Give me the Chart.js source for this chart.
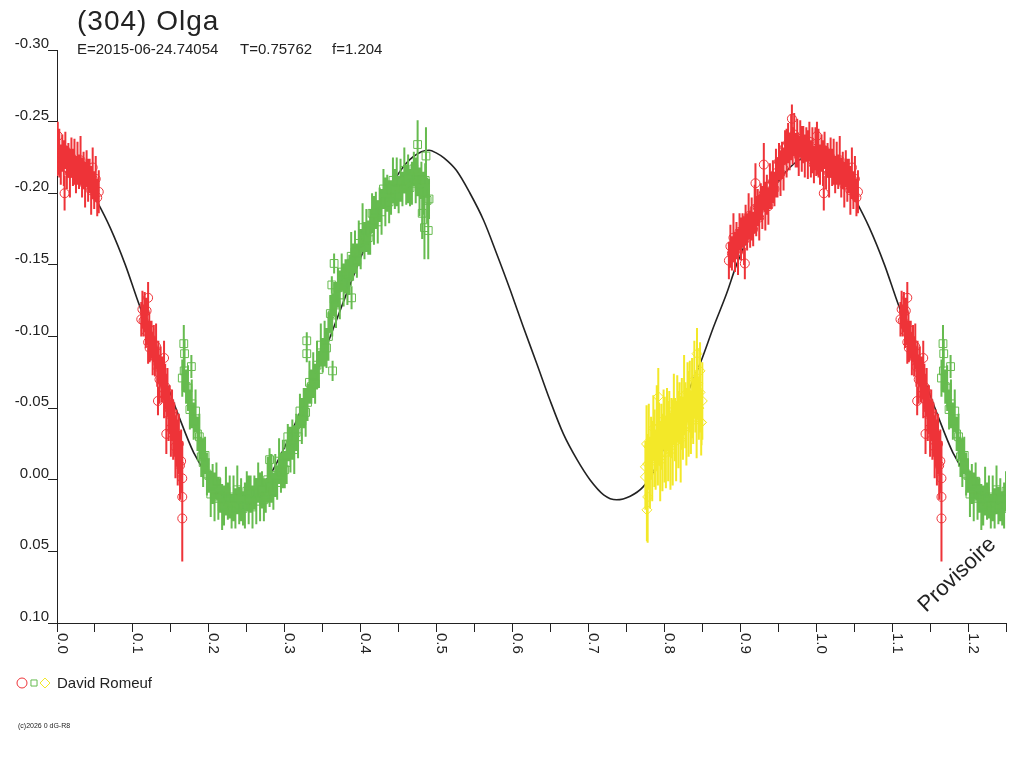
<!DOCTYPE html>
<html>
<head>
<meta charset="utf-8">
<title>(304) Olga</title>
<script src="https://cdn.jsdelivr.net/npm/chart.js@4.4.1/dist/chart.umd.min.js"></script>
<style>
  html, body { margin: 0; padding: 0; background: #fff; }
  #lc { display: block; }
</style>
</head>
<body>
<canvas id="lc" width="1024" height="768"></canvas>
<script>
const titleText = "(304) Olga";
const subtitleParts = ["E=2015-06-24.74054", "T=0.75762", "f=1.204"];
const observerName = "David Romeuf";
const copyrightText = "(c)2026 0 dG-R8";
const stampText = "Provisoire";

const xTickValues = [0, 0.1, 0.2, 0.3, 0.4, 0.5, 0.6, 0.7, 0.8, 0.9, 1.0, 1.1, 1.2];
const xTickLabels = ["0.0", "0.1", "0.2", "0.3", "0.4", "0.5", "0.6", "0.7", "0.8", "0.9", "1.0", "1.1", "1.2"];
const yTickValues = [-0.30, -0.25, -0.20, -0.15, -0.10, -0.05, 0.00, 0.05, 0.10];
const yTickLabels = ["-0.30", "-0.25", "-0.20", "-0.15", "-0.10", "-0.05", "0.00", "0.05", "0.10"];

// [phase, mag, error]
const redSession = [
  [0.885,-0.153,0.013],[0.887,-0.163,0.015],[0.889,-0.158,0.012],[0.891,-0.169,0.017],[0.893,-0.159,0.014],
  [0.895,-0.167,0.013],[0.897,-0.159,0.016],[0.899,-0.173,0.013],[0.901,-0.168,0.015],[0.903,-0.174,0.012],
  [0.905,-0.167,0.017],[0.907,-0.178,0.014],[0.909,-0.173,0.013],[0.911,-0.184,0.016],[0.913,-0.175,0.013],
  [0.915,-0.182,0.015],[0.917,-0.175,0.012],[0.919,-0.189,0.017],[0.921,-0.184,0.014],[0.923,-0.190,0.013],
  [0.925,-0.183,0.016],[0.927,-0.194,0.013],[0.929,-0.190,0.015],[0.931,-0.200,0.012],[0.933,-0.191,0.017],
  [0.935,-0.199,0.014],[0.937,-0.191,0.013],[0.939,-0.205,0.016],[0.941,-0.202,0.013],[0.943,-0.208,0.015],
  [0.945,-0.203,0.012],[0.947,-0.214,0.017],[0.949,-0.211,0.014],[0.951,-0.222,0.013],[0.953,-0.214,0.016],
  [0.955,-0.223,0.013],[0.957,-0.217,0.015],[0.959,-0.232,0.012],[0.961,-0.228,0.017],[0.963,-0.235,0.014],
  [0.965,-0.229,0.013],[0.967,-0.239,0.016],[0.969,-0.233,0.013],[0.971,-0.241,0.015],[0.973,-0.230,0.012],
  [0.975,-0.235,0.017],[0.977,-0.226,0.014],[0.979,-0.238,0.013],[0.981,-0.231,0.016],[0.983,-0.234,0.013],
  [0.985,-0.226,0.015],[0.987,-0.234,0.012],[0.989,-0.227,0.017],[0.991,-0.236,0.014],[0.993,-0.224,0.013],
  [0.995,-0.230,0.016],[0.997,-0.220,0.013],[0.999,-0.231,0.015],
  [0.001,-0.225,0.012],[0.003,-0.228,0.017],[0.005,-0.220,0.014],[0.007,-0.228,0.013],[0.009,-0.221,0.016],
  [0.011,-0.230,0.013],[0.013,-0.218,0.015],[0.015,-0.223,0.012],[0.017,-0.214,0.017],[0.019,-0.225,0.014],
  [0.021,-0.218,0.013],[0.023,-0.222,0.016],[0.025,-0.213,0.013],[0.027,-0.221,0.015],[0.029,-0.215,0.012],
  [0.031,-0.223,0.017],[0.033,-0.211,0.014],[0.035,-0.216,0.013],[0.037,-0.206,0.016],[0.039,-0.217,0.013],
  [0.041,-0.209,0.015],[0.043,-0.212,0.012],[0.045,-0.202,0.017],[0.047,-0.210,0.014],[0.049,-0.202,0.013],
  [0.051,-0.210,0.016],[0.053,-0.197,0.013],[0.055,-0.201,0.015],
  [0.906,-0.151,0.011],[0.920,-0.207,0.014],[0.931,-0.220,0.015],[0.968,-0.252,0.010],[0.001,-0.240,0.010],
  [0.010,-0.200,0.012],[0.047,-0.218,0.014],[0.000,-0.222,0.010],
  [0.1110,-0.112,0.012],[0.1125,-0.119,0.013],[0.1140,-0.111,0.011],[0.1155,-0.117,0.014],[0.1170,-0.104,0.012],
  [0.1185,-0.107,0.013],[0.1200,-0.096,0.015],[0.1215,-0.105,0.012],[0.1230,-0.097,0.014],[0.1245,-0.098,0.013],
  [0.1260,-0.088,0.015],[0.1275,-0.095,0.013],[0.1290,-0.086,0.014],[0.1305,-0.093,0.016],[0.1320,-0.079,0.014],
  [0.1335,-0.082,0.015],[0.1350,-0.070,0.017],[0.1365,-0.079,0.014],[0.1380,-0.070,0.016],[0.1395,-0.071,0.015],
  [0.1410,-0.060,0.017],[0.1425,-0.065,0.016],[0.1440,-0.056,0.018],[0.1455,-0.061,0.017],[0.1470,-0.046,0.019],
  [0.1485,-0.049,0.017],[0.1500,-0.036,0.020],[0.1515,-0.045,0.018],[0.1530,-0.035,0.021],[0.1545,-0.035,0.019],
  [0.1560,-0.023,0.022],[0.1575,-0.029,0.020],[0.1590,-0.019,0.023],[0.1605,-0.025,0.021],[0.1620,-0.010,0.024],
  [0.1635,-0.013,0.022],[0.1650,-0.001,0.026],
  [0.120,-0.127,0.011],[0.118,-0.118,0.009],[0.122,-0.092,0.010],[0.133,-0.055,0.010],[0.141,-0.085,0.012],
  [0.144,-0.032,0.014],[0.165,0.012,0.015],[0.165,0.027,0.030]
];

const greenSession = [
  [0.1650,-0.071,0.013],[0.1675,-0.076,0.015],[0.1700,-0.065,0.012],[0.1725,-0.064,0.016],[0.1750,-0.049,0.014],
  [0.1775,-0.053,0.017],[0.1800,-0.041,0.013],[0.1825,-0.048,0.015],[0.1850,-0.032,0.012],[0.1875,-0.030,0.016],
  [0.1900,-0.016,0.014],[0.1925,-0.012,0.017],[0.1950,-0.017,0.013],[0.1975,-0.004,0.015],[0.2000,-0.003,0.012],
  [0.2025,0.010,0.016],[0.2050,0.003,0.014],[0.2075,0.012,0.017],[0.2100,0.001,0.013],[0.2125,0.013,0.015],
  [0.2150,0.011,0.012],[0.2175,0.019,0.016],[0.2200,0.018,0.014],[0.2225,0.008,0.017],[0.2250,0.015,0.013],
  [0.2275,0.012,0.015],[0.2300,0.022,0.012],[0.2325,0.013,0.016],[0.2350,0.020,0.014],[0.2375,0.007,0.017],
  [0.2400,0.018,0.013],[0.2425,0.014,0.015],[0.2450,0.020,0.012],[0.2475,0.018,0.016],[0.2500,0.008,0.014],
  [0.2525,0.014,0.017],[0.2550,0.010,0.013],[0.2575,0.019,0.015],[0.2600,0.009,0.012],[0.2625,0.015,0.016],
  [0.2650,0.002,0.014],[0.2675,0.012,0.017],[0.2700,0.007,0.013],[0.2725,0.014,0.015],[0.2750,0.011,0.012],
  [0.2775,0.000,0.016],[0.2800,0.005,0.014],[0.2825,-0.001,0.017],[0.2850,0.008,0.013],[0.2875,-0.003,0.015],
  [0.2900,0.002,0.012],[0.2925,-0.013,0.016],[0.2950,-0.005,0.014],[0.2975,-0.011,0.017],[0.3000,-0.007,0.013],
  [0.3025,-0.012,0.015],[0.3050,-0.025,0.012],[0.3075,-0.021,0.016],[0.3100,-0.028,0.014],[0.3125,-0.021,0.017],
  [0.3150,-0.033,0.013],[0.3175,-0.030,0.015],[0.3200,-0.048,0.012],[0.3225,-0.041,0.016],[0.3250,-0.050,0.014],
  [0.3275,-0.047,0.017],[0.3300,-0.054,0.013],[0.3325,-0.068,0.015],[0.3350,-0.065,0.012],[0.3375,-0.073,0.016],
  [0.3400,-0.067,0.014],[0.3425,-0.080,0.017],[0.3450,-0.077,0.013],[0.3475,-0.094,0.015],[0.3500,-0.087,0.012],
  [0.3525,-0.095,0.016],[0.3550,-0.092,0.014],[0.3575,-0.100,0.017],[0.3600,-0.116,0.013],[0.3625,-0.115,0.015],
  [0.3650,-0.126,0.012],[0.3675,-0.122,0.016],[0.3700,-0.134,0.014],[0.3725,-0.129,0.017],[0.3750,-0.145,0.013],
  [0.3775,-0.136,0.015],[0.3800,-0.142,0.012],[0.3825,-0.138,0.016],[0.3850,-0.143,0.014],[0.3875,-0.156,0.017],
  [0.3900,-0.152,0.013],[0.3925,-0.159,0.015],[0.3950,-0.153,0.012],[0.3975,-0.165,0.016],[0.4000,-0.161,0.014],
  [0.4025,-0.176,0.017],[0.4050,-0.167,0.013],[0.4075,-0.174,0.015],[0.4100,-0.169,0.012],[0.4125,-0.173,0.016],
  [0.4150,-0.186,0.014],[0.4175,-0.181,0.017],[0.4200,-0.188,0.013],[0.4225,-0.180,0.015],[0.4250,-0.192,0.012],
  [0.4275,-0.187,0.016],[0.4300,-0.203,0.014],[0.4325,-0.194,0.017],[0.4350,-0.200,0.013],[0.4375,-0.194,0.015],
  [0.4400,-0.197,0.012],[0.4425,-0.209,0.016],[0.4450,-0.203,0.014],[0.4475,-0.208,0.017],[0.4500,-0.199,0.013],
  [0.4525,-0.209,0.015],[0.4550,-0.203,0.012],[0.4575,-0.216,0.016],[0.4600,-0.206,0.014],[0.4625,-0.210,0.017],
  [0.4650,-0.204,0.013],[0.4675,-0.207,0.015],[0.4700,-0.217,0.012],[0.4725,-0.209,0.016],[0.4750,-0.212,0.014],
  [0.4775,-0.201,0.017],[0.4800,-0.209,0.013],[0.4825,-0.200,0.015],[0.4850,-0.209,0.012],[0.4875,-0.195,0.016],
  [0.4900,-0.196,0.014],
  [0.167,-0.095,0.013],[0.168,-0.088,0.010],[0.177,-0.079,0.008],[0.280,-0.014,0.008],[0.304,-0.030,0.009],
  [0.329,-0.097,0.006],[0.329,-0.088,0.006],[0.362,-0.136,0.006],[0.363,-0.076,0.007],[0.365,-0.151,0.007],
  [0.388,-0.127,0.008],[0.475,-0.234,0.017],[0.484,-0.176,0.022],[0.486,-0.226,0.020],[0.489,-0.174,0.020],
  [0.481,-0.186,0.018]
];

const yellowSession = [
  [0.7750,-0.002,0.023],[0.7765,-0.025,0.027],[0.7780,-0.011,0.021],[0.7795,-0.023,0.030],[0.7810,-0.005,0.025],
  [0.7825,-0.022,0.022],[0.7840,-0.013,0.028],[0.7855,-0.036,0.023],[0.7870,-0.022,0.027],[0.7885,-0.014,0.021],
  [0.7900,-0.036,0.030],[0.7915,-0.021,0.025],[0.7930,-0.032,0.022],[0.7945,-0.013,0.028],[0.7960,-0.030,0.023],
  [0.7975,-0.019,0.027],[0.7990,-0.042,0.021],[0.8005,-0.028,0.030],[0.8020,-0.019,0.025],[0.8035,-0.042,0.022],
  [0.8050,-0.027,0.028],[0.8065,-0.039,0.023],[0.8080,-0.020,0.027],[0.8095,-0.036,0.021],[0.8110,-0.026,0.030],
  [0.8125,-0.049,0.025],[0.8140,-0.035,0.022],[0.8155,-0.027,0.028],[0.8170,-0.050,0.023],[0.8185,-0.035,0.027],
  [0.8200,-0.047,0.021],[0.8215,-0.028,0.030],[0.8230,-0.046,0.025],[0.8245,-0.036,0.022],[0.8260,-0.059,0.028],
  [0.8275,-0.045,0.023],[0.8290,-0.037,0.027],[0.8305,-0.061,0.021],[0.8320,-0.046,0.030],[0.8335,-0.058,0.025],
  [0.8350,-0.040,0.022],[0.8365,-0.057,0.028],[0.8380,-0.048,0.023],[0.8395,-0.070,0.027],[0.8410,-0.054,0.021],
  [0.8425,-0.045,0.030],[0.8440,-0.067,0.025],[0.8455,-0.050,0.022],[0.8470,-0.061,0.028],[0.8485,-0.040,0.023],
  [0.8500,-0.055,0.027],
  [0.777,0.021,0.022],[0.778,0.012,0.032],[0.775,-0.009,0.018],[0.792,-0.058,0.020],[0.847,-0.076,0.020],
  [0.843,-0.088,0.018],[0.849,-0.040,0.016]
];

// fitted lightcurve
const fitPhase = [0.00,0.02,0.04,0.052,0.07,0.09,0.105,0.122,0.14,0.16,0.18,0.20,0.22,0.24,0.26,0.28,0.30,0.32,
  0.34,0.36,0.38,0.40,0.42,0.44,0.46,0.48,0.49,0.50,0.51,0.526,0.544,0.562,0.579,0.597,0.614,0.632,0.649,0.667,
  0.685,0.702,0.72,0.737,0.755,0.772,0.786,0.80,0.82,0.847,0.865,0.882,0.895,0.92,0.94,0.96,0.98];
const fitMag = [-0.226,-0.221,-0.206,-0.195,-0.176,-0.150,-0.127,-0.102,-0.074,-0.045,-0.019,-0.002,0.009,0.012,
  0.008,-0.003,-0.023,-0.047,-0.072,-0.100,-0.128,-0.155,-0.182,-0.205,-0.221,-0.229,-0.230,-0.228,-0.2245,-0.216,
  -0.200,-0.181,-0.158,-0.1325,-0.107,-0.081,-0.056,-0.032,-0.014,0.000,0.0105,0.014,0.0115,0.005,-0.006,-0.023,
  -0.048,-0.081,-0.107,-0.130,-0.150,-0.180,-0.200,-0.215,-0.224];

const RED = "#ee3338";
const GREEN = "#66bb4f";
const YELLOW = "#f3e828";
const INK = "#222222";
const PHASE_MAX = 1.25;

// phase plot repeats the start of the cycle after 1.0
function markers(session) {
  const out = [];
  session.forEach(function (p) {
    out.push({ x: p[0], y: p[1] });
    if (p[0] + 1 <= PHASE_MAX) out.push({ x: p[0] + 1, y: p[1] });
  });
  return out;
}

function errorBars(session) {
  const out = [];
  session.forEach(function (p) {
    [p[0], p[0] + 1].forEach(function (x) {
      if (x > PHASE_MAX) return;
      out.push({ x: x, y: p[1] - p[2] }, { x: x, y: p[1] + p[2] }, { x: x, y: null });
    });
  });
  return out;
}

const fitLine = [];
fitPhase.forEach(function (p, i) { fitLine.push({ x: p, y: fitMag[i] }); });
fitPhase.forEach(function (p, i) { if (p + 1 <= 1.3) fitLine.push({ x: p + 1, y: fitMag[i] }); });

function markerSet(session, color, style, radius) {
  return {
    type: "scatter",
    data: markers(session),
    pointStyle: style,
    pointRadius: radius,
    borderColor: color,
    backgroundColor: "rgba(0,0,0,0)",
    borderWidth: 1,
    order: 1,
  };
}

function barSet(session, color) {
  return {
    type: "line",
    data: errorBars(session),
    borderColor: color,
    borderWidth: 2,
    pointRadius: 0,
    spanGaps: false,
    fill: false,
    tension: 0,
    order: 2,
  };
}

const decorations = {
  id: "decorations",
  afterDraw(chart) {
    const ctx = chart.ctx;
    const xs = chart.scales.x;
    const ys = chart.scales.y;
    ctx.save();
    ctx.fillStyle = INK;

    ctx.font = "28px 'Liberation Sans', Arial, sans-serif";
    ctx.letterSpacing = "1px";
    ctx.textAlign = "left";
    ctx.textBaseline = "alphabetic";
    ctx.fillText(titleText, 77, 30);
    ctx.letterSpacing = "0px";

    ctx.font = "15px 'Liberation Sans', Arial, sans-serif";
    ctx.fillText(subtitleParts[0], 77, 54);
    ctx.fillText(subtitleParts[1], 240, 54);
    ctx.fillText(subtitleParts[2], 332, 54);

    // y tick labels sit just above their tick
    ctx.textAlign = "right";
    yTickValues.forEach(function (v, i) {
      ctx.fillText(yTickLabels[i], 49, ys.getPixelForValue(v) - 2);
    });

    // x tick labels turned a quarter clockwise
    ctx.textAlign = "left";
    xTickValues.forEach(function (v, i) {
      ctx.save();
      ctx.translate(xs.getPixelForValue(v) + 0.5, 633);
      ctx.rotate(Math.PI / 2);
      ctx.fillText(xTickLabels[i], 0, 0);
      ctx.restore();
    });

    // legend
    ctx.fillText(observerName, 57, 688);
    const legendMarks = [[RED, "circle", 5, 22], [GREEN, "rect", 4.3, 34], [YELLOW, "rectRot", 5, 45]];
    legendMarks.forEach(function (m) {
      ctx.save();
      ctx.strokeStyle = m[0];
      ctx.fillStyle = "rgba(0,0,0,0)";
      ctx.lineWidth = 1;
      Chart.helpers.drawPoint(ctx, { pointStyle: m[1], radius: m[2], rotation: 0, borderWidth: 1 }, m[3], 683);
      ctx.restore();
    });

    ctx.font = "7px 'Liberation Sans', Arial, sans-serif";
    ctx.fillText(copyrightText, 18, 728);

    ctx.font = "22px 'Liberation Sans', Arial, sans-serif";
    ctx.translate(926, 613);
    ctx.rotate(-0.76);
    ctx.fillText(stampText, 0, 0);
    ctx.restore();
  }
};

const ctx = document.getElementById("lc").getContext("2d");
const lightcurve = new Chart(ctx, {
  type: "scatter",
  data: {
    datasets: [
      markerSet(redSession, RED, "circle", 4.5),
      barSet(redSession, RED),
      markerSet(greenSession, GREEN, "rect", 5.5),
      barSet(greenSession, GREEN),
      markerSet(yellowSession, YELLOW, "rectRot", 5),
      barSet(yellowSession, YELLOW),
      {
        type: "line",
        data: fitLine,
        borderColor: INK,
        borderWidth: 1.6,
        pointRadius: 0,
        fill: false,
        cubicInterpolationMode: "monotone",
        order: 10,
      },
    ],
  },
  options: {
    responsive: false,
    animation: false,
    events: [],
    layout: { padding: { left: 48, top: 50, right: 18, bottom: 136 } },
    plugins: {
      legend: { display: false },
      tooltip: { enabled: false },
    },
    scales: {
      x: {
        type: "linear",
        min: 0,
        max: PHASE_MAX,
        ticks: { display: false, stepSize: 0.05 },
        grid: { drawOnChartArea: false, drawTicks: true, tickLength: 9, color: INK },
        border: { color: INK, width: 1 },
      },
      y: {
        type: "linear",
        min: -0.3,
        max: 0.1,
        reverse: true,
        ticks: { display: false, stepSize: 0.05 },
        grid: { drawOnChartArea: false, drawTicks: true, tickLength: 9, color: INK },
        border: { color: INK, width: 1 },
      },
    },
  },
  plugins: [decorations],
});
</script>
</body>
</html>
